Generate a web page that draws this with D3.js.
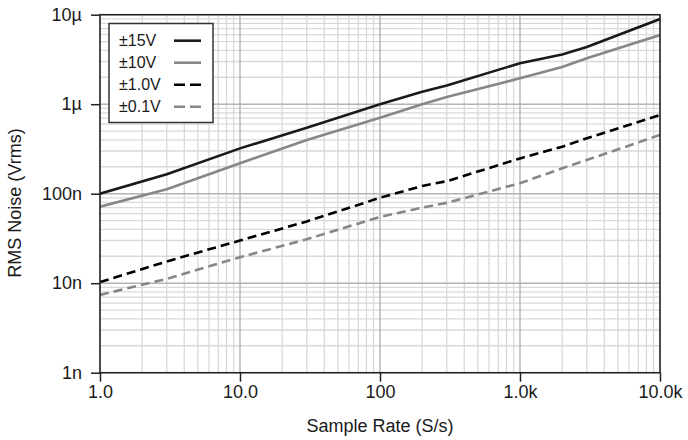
<!DOCTYPE html>
<html><head><meta charset="utf-8">
<script src="https://cdn.jsdelivr.net/npm/d3@7"></script>
<style>
html,body{margin:0;padding:0;background:#fff;}
svg{display:block;font-family:"Liberation Sans",Arial,Helvetica,sans-serif;}
</style></head>
<body><svg id="c" width="688" height="440"></svg>
<script>
// ---- data ----
const sampleRate = [1, 3, 10, 30, 100, 200, 300, 1000, 2000, 3000, 10000];
const noise15V  = [100e-9, 165e-9, 321e-9, 545e-9, 1.0e-6, 1.38e-6, 1.62e-6, 2.87e-6, 3.6e-6, 4.35e-6, 8.95e-6];
const noise10V  = [71.6e-9, 112e-9, 219e-9, 398e-9, 707e-9, 1.0e-6, 1.2e-6, 1.95e-6, 2.6e-6, 3.26e-6, 5.93e-6];
const noise1V   = [10.3e-9, 17.5e-9, 30e-9, 49e-9, 90e-9, 122e-9, 138e-9, 248e-9, 335e-9, 416e-9, 757e-9];
const noise01V  = [7.4e-9, 11.2e-9, 19.5e-9, 31e-9, 55e-9, 70e-9, 79e-9, 131e-9, 192e-9, 238e-9, 453e-9];
const seriesNames = ["±15V", "±10V", "±1.0V", "±0.1V"];
const xTickValues = [1, 10, 100, 1000, 10000];
const xTickLabels = ["1.0", "10.0", "100", "1.0k", "10.0k"];
const yTickValues = [1e-9, 1e-8, 1e-7, 1e-6, 1e-5];
const yTickLabels = ["1n", "10n", "100n", "1µ", "10µ"];
const xTitle = "Sample Rate (S/s)";
const yTitle = "RMS Noise (Vrms)";

// ---- layout ----
const L = 100, R = 660, T = 14.7, B = 372.7;
const svg = d3.select("#c");
const x = d3.scaleLog().domain([1, 10000]).range([L, R]);
const y = d3.scaleLog().domain([1e-9, 1e-5]).range([B, T]);

// grid
const minorX = [], minorY = [];
for (let d = 1; d < 10000; d *= 10) for (let k = 2; k <= 9; k++) minorX.push(d * k);
for (let d = 1e-9; d < 1e-5 * 0.99; d *= 10) for (let k = 2; k <= 9; k++) minorY.push(d * k);
const g = svg.append("g");
g.selectAll(".mx").data(minorX).enter().append("line")
  .attr("x1", d => x(d)).attr("x2", d => x(d)).attr("y1", T).attr("y2", B)
  .attr("stroke", "#d9d9d9").attr("stroke-width", 1.3);
g.selectAll(".my").data(minorY).enter().append("line")
  .attr("y1", d => y(d)).attr("y2", d => y(d)).attr("x1", L).attr("x2", R)
  .attr("stroke", "#d9d9d9").attr("stroke-width", 1.3);
g.selectAll(".Mx").data(xTickValues).enter().append("line")
  .attr("x1", d => x(d)).attr("x2", d => x(d)).attr("y1", T).attr("y2", B)
  .attr("stroke", "#a6a6a6").attr("stroke-width", 1.2);
g.selectAll(".My").data(yTickValues).enter().append("line")
  .attr("y1", d => y(d)).attr("y2", d => y(d)).attr("x1", L).attr("x2", R)
  .attr("stroke", "#b3b3b3").attr("stroke-width", 1.5);

// series
const series = [
  {name: seriesNames[0], vals: noise15V, color: "#1a1a1a", dash: null},
  {name: seriesNames[1], vals: noise10V, color: "#878787", dash: null},
  {name: seriesNames[2], vals: noise1V,  color: "#000000", dash: "9,5"},
  {name: seriesNames[3], vals: noise01V, color: "#878787", dash: "9,5"}
];
const line = d3.line().x(d => x(d[0])).y(d => y(d[1])).curve(d3.curveLinear);
svg.append("clipPath").attr("id", "clp").append("rect")
  .attr("x", L).attr("y", T).attr("width", R - L).attr("height", B - T);
series.forEach(s => {
  svg.append("path").attr("clip-path", "url(#clp)")
    .attr("d", line(sampleRate.map((r, i) => [r, s.vals[i]])))
    .attr("fill", "none").attr("stroke", s.color).attr("stroke-width", 2.6)
    .attr("stroke-linejoin", "round")
    .attr("stroke-dasharray", s.dash);
});

// frame
svg.append("rect").attr("x", L).attr("y", T).attr("width", R - L).attr("height", B - T)
  .attr("fill", "none").attr("stroke", "#222").attr("stroke-width", 1.5);

// axes
const xAxis = d3.axisBottom(x).tickValues(xTickValues)
  .tickFormat((d, i) => xTickLabels[i]).tickSizeInner(9).tickSizeOuter(0).tickPadding(4);
const ax = svg.append("g").attr("transform", `translate(0,${B})`).call(xAxis);
const yAxis = d3.axisLeft(y).tickValues(yTickValues)
  .tickFormat((d, i) => yTickLabels[i]).tickSizeInner(9).tickSizeOuter(0).tickPadding(9);
const ay = svg.append("g").attr("transform", `translate(${L},0)`).call(yAxis);
[ax, ay].forEach(a => {
  a.select(".domain").remove();
  a.selectAll(".tick line").attr("stroke", "#222").attr("stroke-width", 1.5);
  a.selectAll(".tick text").attr("fill", "#1a1a1a").style("font-size", "18px")
    .style("font-family", "'Liberation Sans',Arial,sans-serif");
});

// titles
svg.append("text").attr("x", (L + R) / 2).attr("y", 432).attr("text-anchor", "middle")
  .style("font-size", "18px").attr("fill", "#1a1a1a").text(xTitle);
svg.append("text").attr("transform", `translate(21,${203}) rotate(-90)`).attr("text-anchor", "middle")
  .style("font-size", "18px").attr("fill", "#1a1a1a").text(yTitle);

// legend
const lg = svg.append("g");
lg.append("rect").attr("x", 109).attr("y", 23.5).attr("width", 104).attr("height", 99)
  .attr("fill", "#fff").attr("stroke", "#333").attr("stroke-width", 1.5);
series.forEach((s, i) => {
  const cy = 40.7 + i * 22;
  lg.append("text").attr("x", 119).attr("y", cy + 5.5).style("font-size", "16px")
    .attr("fill", "#1a1a1a").text(s.name);
  lg.append("line").attr("x1", 174).attr("x2", 201).attr("y1", cy).attr("y2", cy)
    .attr("stroke", s.color).attr("stroke-width", 2.6)
    .attr("stroke-dasharray", s.dash ? "11,5" : null);
});
</script></body></html>
